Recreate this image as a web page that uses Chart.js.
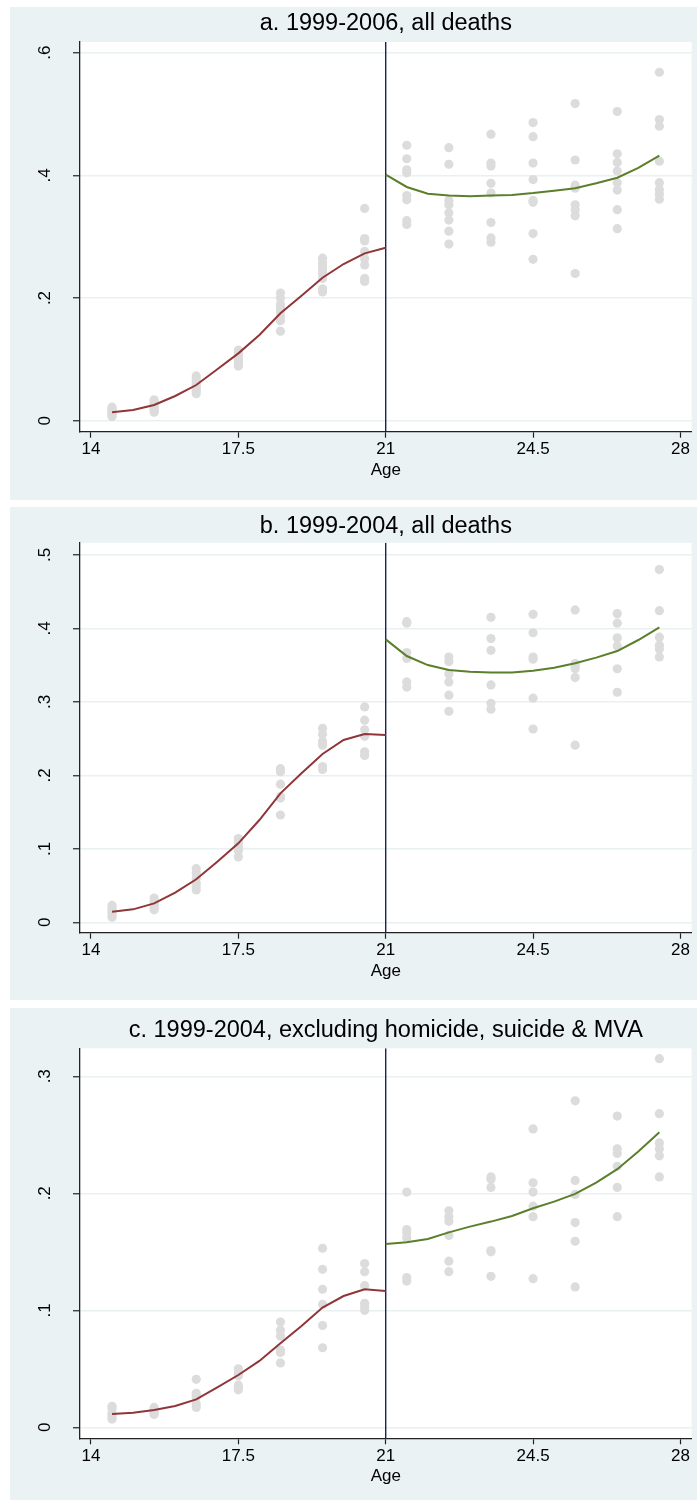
<!DOCTYPE html>
<html><head><meta charset="utf-8">
<script src="https://cdn.jsdelivr.net/npm/chart.js@4.4.1/dist/chart.umd.min.js"></script>
<style>
html,body{margin:0;padding:0;background:#fff;}
body{width:697px;height:1502px;position:relative;overflow:hidden;}
canvas{position:absolute;left:10px;background:#eaf2f3;}
</style></head><body>
<canvas id="ca" width="687" height="493" style="top:7px"></canvas>
<canvas id="cb" width="687" height="493" style="top:507px"></canvas>
<canvas id="cc" width="687" height="492" style="top:1008px"></canvas>
<script>
// ---------- data ----------
const cutoffAge = 21;
const xTicks = [14, 17.5, 21, 24.5, 28];
const xTitle = 'Age';
const scatterAges = [14.5, 15.5, 16.5, 17.5, 18.5, 19.5, 20.5, 21.5, 22.5, 23.5, 24.5, 25.5, 26.5, 27.5];
const fitAgesLeft = [14.5, 15, 15.5, 16, 16.5, 17, 17.5, 18, 18.5, 19, 19.5, 20, 20.5, 21];
const fitAgesRight = [21, 21.5, 22, 22.5, 23, 23.5, 24, 24.5, 25, 25.5, 26, 26.5, 27, 27.5];

// panel a
const titleA = 'a. 1999-2006, all deaths';
const yTicksA = [0, 0.2, 0.4, 0.6];
const yRangeA = [-0.0179, 0.6173];
const fitLeftA = [0.0137, 0.0174, 0.0256, 0.0403, 0.0582, 0.0838, 0.1098, 0.1397, 0.175, 0.2038, 0.2331, 0.2554, 0.2728, 0.282];
const fitRightA = [0.401, 0.381, 0.370, 0.367, 0.3657, 0.367, 0.368, 0.371, 0.375, 0.379, 0.387, 0.396, 0.412, 0.432];
const scatterA = [
  [0.022, 0.020, 0.018, 0.016, 0.013, 0.011, 0.009, 0.007],
  [0.034, 0.031, 0.028, 0.025, 0.022, 0.020, 0.017, 0.014],
  [0.073, 0.068, 0.064, 0.060, 0.056, 0.052, 0.048, 0.044],
  [0.115, 0.111, 0.107, 0.104, 0.100, 0.097, 0.093, 0.089],
  [0.208, 0.200, 0.190, 0.184, 0.178, 0.170, 0.163, 0.146],
  [0.265, 0.258, 0.253, 0.246, 0.240, 0.232, 0.215, 0.210],
  [0.346, 0.297, 0.293, 0.276, 0.264, 0.254, 0.232, 0.227],
  [0.449, 0.427, 0.409, 0.404, 0.367, 0.360, 0.326, 0.320],
  [0.445, 0.418, 0.359, 0.352, 0.339, 0.327, 0.309, 0.288],
  [0.467, 0.420, 0.415, 0.387, 0.371, 0.323, 0.298, 0.291],
  [0.486, 0.463, 0.420, 0.393, 0.359, 0.356, 0.305, 0.263],
  [0.517, 0.425, 0.384, 0.379, 0.352, 0.344, 0.334, 0.240],
  [0.504, 0.435, 0.421, 0.407, 0.388, 0.376, 0.344, 0.313],
  [0.568, 0.491, 0.480, 0.423, 0.388, 0.377, 0.369, 0.361]
];

// panel b
const titleB = 'b. 1999-2004, all deaths';
const yTicksB = [0, 0.1, 0.2, 0.3, 0.4, 0.5];
const yRangeB = [-0.01415, 0.5165];
const fitLeftB = [0.0144, 0.0176, 0.0257, 0.0403, 0.0585, 0.0825, 0.1074, 0.1392, 0.1755, 0.2027, 0.229, 0.2481, 0.2563, 0.2549];
const fitRightB = [0.385, 0.3623, 0.350, 0.3433, 0.341, 0.340, 0.340, 0.3424, 0.3465, 0.3524, 0.3601, 0.3691, 0.3841, 0.4013];
const scatterB = [
  [0.023, 0.019, 0.016, 0.013, 0.010, 0.007],
  [0.033, 0.029, 0.026, 0.023, 0.020, 0.017],
  [0.073, 0.067, 0.060, 0.053, 0.048, 0.044],
  [0.114, 0.110, 0.106, 0.101, 0.097, 0.089],
  [0.209, 0.205, 0.188, 0.171, 0.169, 0.146],
  [0.264, 0.256, 0.246, 0.241, 0.212, 0.208],
  [0.293, 0.275, 0.262, 0.253, 0.232, 0.227],
  [0.409, 0.407, 0.367, 0.359, 0.327, 0.320],
  [0.361, 0.355, 0.338, 0.327, 0.309, 0.287],
  [0.415, 0.386, 0.370, 0.323, 0.298, 0.290],
  [0.419, 0.394, 0.361, 0.358, 0.305, 0.263],
  [0.425, 0.352, 0.348, 0.345, 0.333, 0.241],
  [0.420, 0.407, 0.387, 0.376, 0.345, 0.313],
  [0.480, 0.424, 0.388, 0.377, 0.372, 0.361]
];

// panel c
const titleC = 'c. 1999-2004, excluding homicide, suicide & MVA';
const yTicksC = [0, 0.1, 0.2, 0.3];
const yRangeC = [-0.0094, 0.3239];
const fitLeftC = [0.0114, 0.0125, 0.0148, 0.0182, 0.0239, 0.0342, 0.0447, 0.0567, 0.0718, 0.0866, 0.1023, 0.1122, 0.118, 0.1165];
const fitRightC = [0.1566, 0.1581, 0.161, 0.1666, 0.1715, 0.1758, 0.1806, 0.1872, 0.1929, 0.1995, 0.2092, 0.2206, 0.2357, 0.2521];
const scatterC = [
  [0.018, 0.016, 0.012, 0.010, 0.008, 0.007],
  [0.017, 0.015, 0.014, 0.013, 0.012, 0.011],
  [0.041, 0.029, 0.027, 0.026, 0.020, 0.017],
  [0.050, 0.046, 0.044, 0.036, 0.034, 0.032],
  [0.090, 0.083, 0.078, 0.066, 0.064, 0.055],
  [0.153, 0.135, 0.118, 0.105, 0.087, 0.068],
  [0.140, 0.133, 0.121, 0.106, 0.103, 0.100],
  [0.201, 0.169, 0.166, 0.162, 0.128, 0.125],
  [0.185, 0.180, 0.176, 0.164, 0.142, 0.133],
  [0.214, 0.212, 0.205, 0.151, 0.150, 0.129],
  [0.255, 0.209, 0.201, 0.189, 0.180, 0.127],
  [0.279, 0.211, 0.199, 0.175, 0.159, 0.120],
  [0.266, 0.238, 0.234, 0.223, 0.205, 0.180],
  [0.315, 0.268, 0.243, 0.238, 0.232, 0.214]
];

const xRange = [13.739, 28.268];

// ---------- styling / rendering ----------
const FONT = '"Liberation Sans", Arial, Helvetica, sans-serif';
const COL_PTS = '#dcdcdc', COL_RED = '#903538', COL_GREEN = '#5b7f2a', COL_VLINE = '#1b2354', COL_AX = '#222';

const plotBg = {
  id: 'plotBg',
  beforeDraw(chart) {
    const { ctx, chartArea: a } = chart;
    ctx.save();
    ctx.fillStyle = '#ffffff';
    ctx.fillRect(a.left, a.top, a.right - a.left, a.bottom - a.top);
    ctx.restore();
  }
};

function fmtY(v) {
  if (v === 0) return '0';
  return String(+v.toFixed(3)).replace(/^0/, '');
}

function makePanel(id, title, yTicks, yRange, fitLeft, fitRight, scatter, lay) {
  const pts = [];
  scatterAges.forEach((age, i) => scatter[i].forEach(v => pts.push({ x: age, y: v })));
  const left = fitAgesLeft.map((a, i) => ({ x: a, y: fitLeft[i] }));
  const right = fitAgesRight.map((a, i) => ({ x: a, y: fitRight[i] }));
  const vline = [{ x: cutoffAge, y: yRange[0] }, { x: cutoffAge, y: yRange[1] }];
  new Chart(document.getElementById(id), {
    type: 'scatter',
    data: {
      datasets: [
        { data: left, showLine: true, borderColor: COL_RED, borderWidth: 2, pointRadius: 0, tension: 0, order: 0 },
        { data: right, showLine: true, borderColor: COL_GREEN, borderWidth: 2, pointRadius: 0, tension: 0, order: 0 },
        { data: vline, showLine: true, borderColor: COL_VLINE, borderWidth: 1.4, pointRadius: 0, tension: 0, order: 1 },
        { data: pts, showLine: false, pointRadius: 4.6, pointBackgroundColor: COL_PTS, pointBorderWidth: 0, borderColor: COL_PTS, order: 2 }
      ]
    },
    options: {
      responsive: false,
      animation: false,
      events: [],
      layout: { padding: { left: 0, right: 5.3, top: 0, bottom: lay.padBottom } },
      plugins: {
        legend: { display: false },
        tooltip: { enabled: false },
        title: {
          display: true, text: title, fullSize: false, color: '#000',
          font: { family: FONT, size: 23.5, weight: 'normal' },
          padding: { top: lay.titleTop, bottom: lay.titleBottom }
        }
      },
      scales: {
        x: {
          type: 'linear', min: xRange[0], max: xRange[1],
          afterBuildTicks: s => { s.ticks = xTicks.map(v => ({ value: v })); },
          afterFit: s => { s.height = 60; },
          grid: { display: true, drawOnChartArea: false, drawTicks: true, tickLength: 6, tickColor: COL_AX, tickWidth: 1.2 },
          border: { display: true, color: COL_AX, width: 1.3 },
          ticks: { autoSkip: false, minRotation: 0, maxRotation: 0, padding: 1.5, color: '#000', font: { family: FONT, size: 17 }, callback: v => String(v) },
          title: { display: true, text: xTitle, color: '#000', font: { family: FONT, size: 17 }, padding: { top: 0, bottom: 11.3 } }
        },
        y: {
          type: 'linear', min: yRange[0], max: yRange[1],
          afterBuildTicks: s => { s.ticks = yTicks.map(v => ({ value: v })); },
          afterFit: s => { s.width = 70; },
          grid: { color: '#e9f0f2', lineWidth: 1.5, tickColor: COL_AX, tickLength: 7, tickWidth: 1.2 },
          border: { display: true, color: COL_AX, width: 1.3 },
          ticks: { autoSkip: false, minRotation: 90, maxRotation: 90, crossAlign: 'center', padding: 21, color: '#000', font: { family: FONT, size: 17 }, callback: v => fmtY(v) }
        }
      }
    },
    plugins: [plotBg]
  });
}

makePanel('ca', titleA, yTicksA, yRangeA, fitLeftA, fitRightA, scatterA, { titleTop: 2.9, titleBottom: 3.9, padBottom: 8.3 });
makePanel('cb', titleB, yTicksB, yRangeB, fitLeftB, fitRightB, scatterB, { titleTop: 5.9, titleBottom: 1.6, padBottom: 7.3 });
makePanel('cc', titleC, yTicksC, yRangeC, fitLeftC, fitRightC, scatterC, { titleTop: 8.9, titleBottom: 3.2, padBottom: 1.7 });
</script>
</body></html>
